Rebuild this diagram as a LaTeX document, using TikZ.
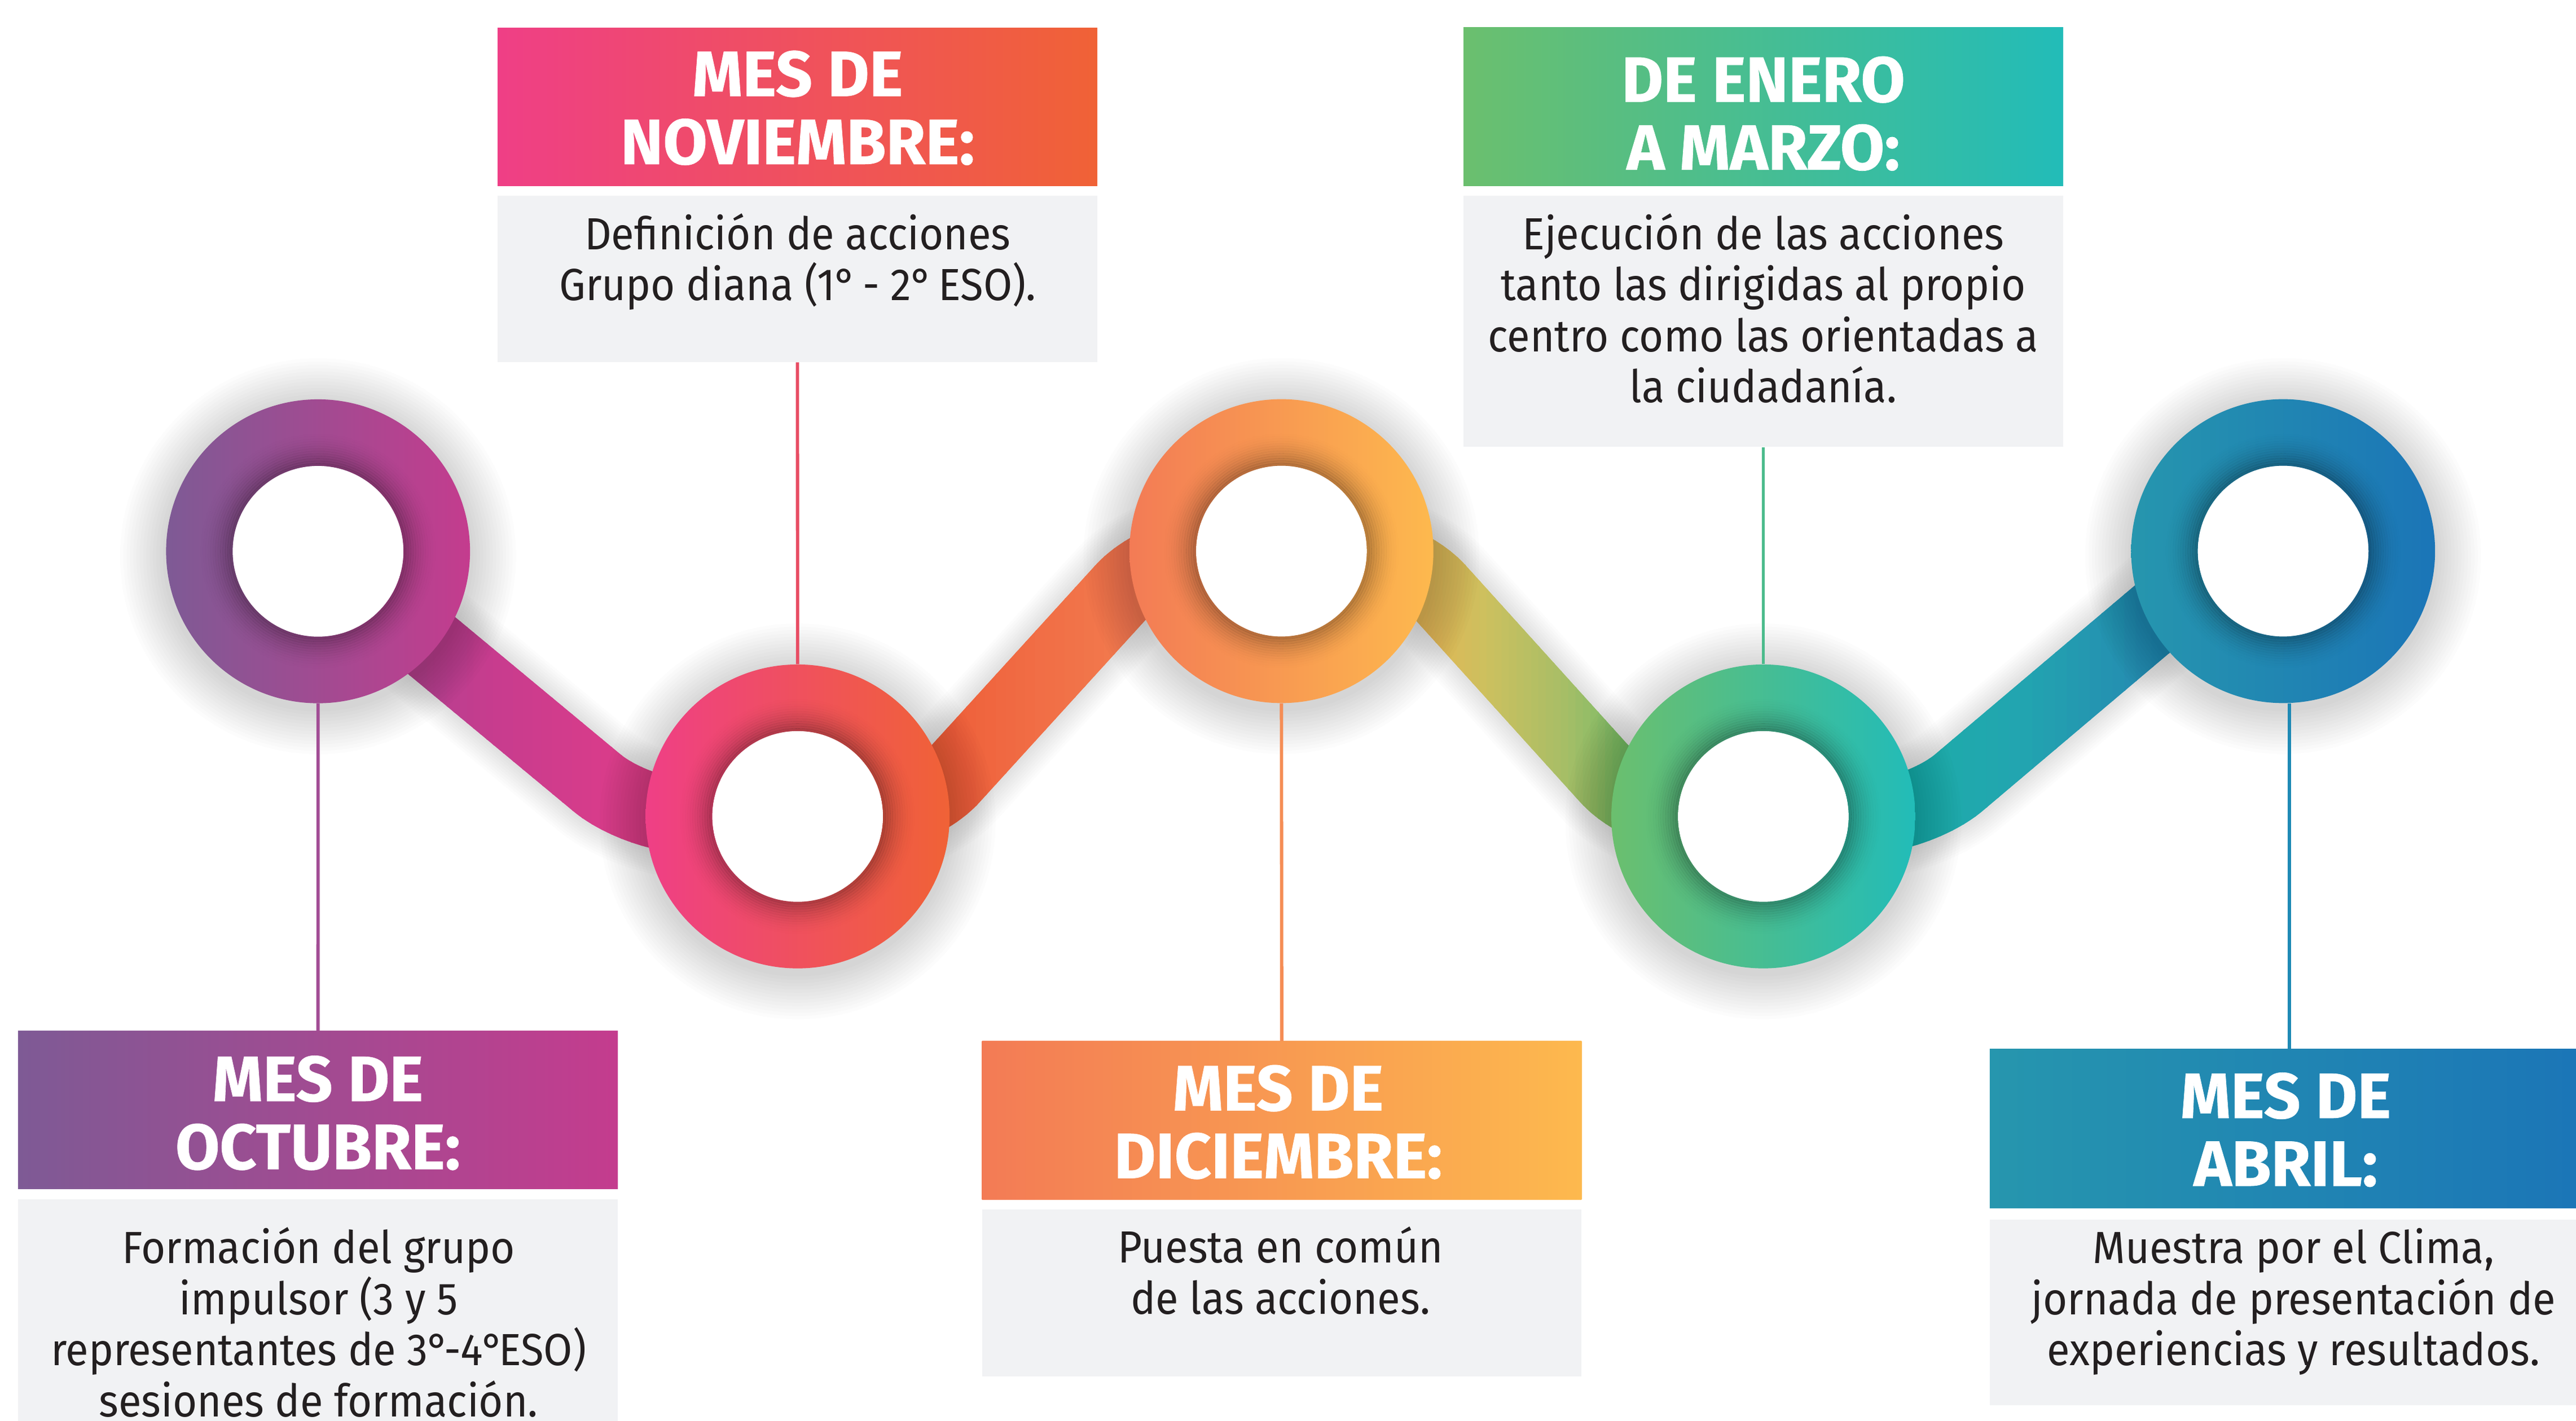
\documentclass[tikz,border=0pt]{standalone}
\usepackage{fontspec}
\setmainfont{Fira Sans}
\newfontfamily\headfont{Fira Sans}[FakeBold=0.6]
\newfontfamily\bodyfont{Fira Sans}[FakeStretch=0.93]
\usetikzlibrary{calc}
\newcommand\ordo{\kern-0.5pt°\kern-3pt}
% box / circle colours
\definecolor{octL}{HTML}{7E5A95}\definecolor{octR}{HTML}{C43C8E}
\definecolor{novL}{HTML}{EF3F86}\definecolor{novR}{HTML}{F06236}
\definecolor{dicL}{HTML}{F37B55}\definecolor{dicR}{HTML}{FDB94E}
\definecolor{eneL}{HTML}{6BBF6E}\definecolor{eneR}{HTML}{22BCB8}
\definecolor{abrL}{HTML}{2696AE}\definecolor{abrR}{HTML}{1B75B7}
\definecolor{boxgray}{HTML}{F1F2F4}
\definecolor{txtdark}{HTML}{231F20}
\definecolor{stemA}{HTML}{A24D95}\definecolor{stemB}{HTML}{E84C63}
\definecolor{stemC}{HTML}{F58D55}\definecolor{stemD}{HTML}{4BBB8C}
\definecolor{stemE}{HTML}{1F8AB5}
% band colour stops
\definecolor{k01}{HTML}{8E4F94}\definecolor{k02}{HTML}{B7408F}
\definecolor{k03}{HTML}{C73C8E}\definecolor{k04}{HTML}{D63C8B}
\definecolor{k05}{HTML}{E23F84}\definecolor{k06}{HTML}{EC4F5A}
\definecolor{k07}{HTML}{EE5E39}\definecolor{k08}{HTML}{F16D45}
\definecolor{k09}{HTML}{F27B4F}\definecolor{k10}{HTML}{F69A4F}
\definecolor{k11}{HTML}{E8B452}\definecolor{k12}{HTML}{CCC05F}
\definecolor{k13}{HTML}{A9BE66}\definecolor{k14}{HTML}{72BC69}
\definecolor{k15}{HTML}{3FBA97}\definecolor{k16}{HTML}{1DACA9}
\definecolor{k17}{HTML}{22A5B0}\definecolor{k18}{HTML}{258DB1}
\definecolor{k19}{HTML}{1E7FB4}
\tikzset{
  headbox/.style={rectangle, inner sep=0pt, minimum width=365pt, draw=none},
  textbox/.style={rectangle, inner sep=0pt, minimum width=365pt, fill=boxgray, draw=none},
  headtxt/.style={anchor=base, inner sep=0pt, text=white, font=\headfont\bfseries\fontsize{39}{41}\selectfont},
  bodytxt/.style={anchor=base, inner sep=0pt, text=txtdark, font=\bodyfont\fontsize{27.4}{31}\selectfont},
  band/.style={line width=45pt, rounded corners=32pt},
  stem/.style={line width=2pt},
  hub/.style={circle, inner sep=0pt, minimum size=185pt, draw=none},
}
\begin{document}
\begin{tikzpicture}[x=1pt,y=-1pt]
\useasboundingbox (0,0) rectangle (1568,864.7);
\clip (0,0) rectangle (1568,864.7);

% hubs (circle centres)
\node[hub] (c1) at (193.6,335.6) {};
\node[hub] (c2) at (485.5,497) {};
\node[hub] (c3) at (780,335.5) {};
\node[hub] (c4) at (1073.3,497) {};
\node[hub] (c5) at (1389.7,335.5) {};
\coordinate (b1) at (388,497);
\coordinate (b2) at (558,497);
\coordinate (b3) at (705,335.5);
\coordinate (b4) at (854,335.5);
\coordinate (b5) at (1000,497);
\coordinate (b6) at (1168,497);
\coordinate (b7) at (1359,335.5);
\def\bandpath{(c1.center) -- (b1) -- (b2) -- (b3) -- (b4) -- (b5) -- (b6) -- (b7) -- (c5.center)}

% band shadow
\foreach \k in {1,...,10}
  \draw[band, black, opacity=0.012, line width=45+3*\k] \bandpath;

% band with horizontal gradient (strips)
\foreach \xa/\ca/\xb/\cb in {150/k01/260/k02, 260/k02/300/k03, 300/k03/360/k04, 360/k04/420/k05,
  420/k05/520/k06, 520/k06/570/k07, 570/k07/630/k08, 630/k08/690/k09, 690/k09/780/k10,
  780/k10/860/k11, 860/k11/905/k12, 905/k12/950/k13, 950/k13/995/k14, 995/k14/1073/k15,
  1073/k15/1160/k16, 1160/k16/1230/k17, 1230/k17/1300/k18, 1300/k18/1400/k19}{
  \foreach \i in {0,...,9}{
    \pgfmathsetmacro\xs{\xa+(\xb-\xa)*\i/10}
    \pgfmathsetmacro\xe{\xa+(\xb-\xa)*(\i+1)/10+0.8}
    \pgfmathsetmacro\pc{100*(\i+0.5)/10}
    \colorlet{stripc}{\cb!\pc!\ca}
    \begin{scope}
      \clip (\xs,-5) rectangle (\xe,870);
      \draw[band, stripc] \bandpath;
    \end{scope}
  }
}

% circles: shadow, ring, white hole, inner shadow
\foreach \c/\l/\r in {c1/octL/octR, c2/novL/novR, c3/dicL/dicR, c4/eneL/eneR, c5/abrL/abrR}{
  \begin{scope}[even odd rule]
    \clip (-10,-10) rectangle (1600,900) (\c.center) circle[radius=52];
    \foreach \k in {1,...,14}
      \fill[black, opacity=0.011] ($(\c.center)+(0,3)$) circle[radius=92.5+2*\k];
  \end{scope}
  \fill[white] (\c.center) circle[radius=52];
  \shade[left color=\l, right color=\r, even odd rule]
    (\c.center) circle[radius=92.5] (\c.center) circle[radius=52];
  \foreach \j in {0,...,13}{
    \pgfmathsetmacro\op{0.26*(1-\j/14)^2}
    \draw[black, opacity=\op, line width=1.6] (\c.center) circle[radius=52.8+1.5*\j];
  }
}

% boxes
\node[headbox, minimum height=96.2, left color=octL, right color=octR] (octH) at (193.55,675.7) {};
\node[textbox, minimum height=170] (octT) at (193.55,815.1) {};
\node[headbox, minimum height=96.2, left color=novL, right color=novR] (novH) at (485.4,65) {};
\node[textbox, minimum height=101.4] (novT) at (485.4,169.7) {};
\node[headbox, minimum height=96.5, left color=dicL, right color=dicR] (dicH) at (780.2,682.15) {};
\node[textbox, minimum height=101.6] (dicT) at (780.2,787.2) {};
\node[headbox, minimum height=96.2, left color=eneL, right color=eneR] (eneH) at (1073.3,64.9) {};
\node[textbox, minimum height=153] (eneT) at (1073.3,195.6) {};
\node[headbox, minimum height=96.7, left color=abrL, right color=abrR] (abrH) at (1393.6,686.95) {};
\node[textbox, minimum height=113] (abrT) at (1393.6,798.8) {};

% stems
\draw[stem, stemA] (c1.south) -- (octH.north);
\draw[stem, stemB] (novT.south) -- (c2.north);
\draw[stem, stemC] (c3.south) -- (dicH.north);
\draw[stem, stemD] (eneT.south) -- (c4.north);
\draw[stem, stemE] (c5.south -| abrH.north) -- (abrH.north);

% texts: octubre
\node[headtxt] (octh1) at (193.5,670.3) {MES DE};
\node[headtxt] (octh2) at (193.5,711.7) {OCTUBRE:};
\node[bodytxt] (oct1) at (193.9,769.1) {Formación del grupo};
\node[bodytxt] (oct2) at (193.9,800.2) {impulsor (3 y 5};
\node[bodytxt] (oct3) at (193.9,831.3) {representantes de 3\ordo-4\ordo ESO)};
\node[bodytxt] (oct4) at (193.9,862.4) {sesiones de formación.};
% noviembre
\node[headtxt] (novh1) at (485.5,58.5) {MES DE};
\node[headtxt] (novh2) at (485.5,99.9) {NOVIEMBRE:};
\node[bodytxt] (nov1) at (485.5,151.8) {Definición de acciones};
\node[bodytxt] (nov2) at (485.5,182.9) {Grupo diana (1\ordo\ - 2\ordo\ ESO).};
% diciembre
\node[headtxt] (dich1) at (778,676) {MES DE};
\node[headtxt] (dich2) at (778,717.2) {DICIEMBRE:};
\node[bodytxt] (dic1) at (779.4,768.8) {Puesta en común};
\node[bodytxt] (dic2) at (779.4,800.1) {de las acciones.};
% enero a marzo
\node[headtxt] (eneh1) at (1073.3,62) {DE ENERO};
\node[headtxt] (eneh2) at (1073.3,103.3) {A MARZO:};
\node[bodytxt] (ene1) at (1073.3,151.8) {Ejecución de las acciones};
\node[bodytxt] (ene2) at (1073.3,182.9) {tanto las dirigidas al propio};
\node[bodytxt] (ene3) at (1073.3,214) {centro como las orientadas a};
\node[bodytxt] (ene4) at (1073.3,245.1) {la ciudadanía.};
% abril
\node[headtxt] (abrh1) at (1391.3,680.6) {MES DE};
\node[headtxt] (abrh2) at (1391.3,721.9) {ABRIL:};
\node[bodytxt] (abr1) at (1396,769.1) {Muestra por el Clima,};
\node[bodytxt] (abr2) at (1396,800.2) {jornada de presentación de};
\node[bodytxt] (abr3) at (1396,831.2) {experiencias y resultados.};
\end{tikzpicture}
\end{document}
